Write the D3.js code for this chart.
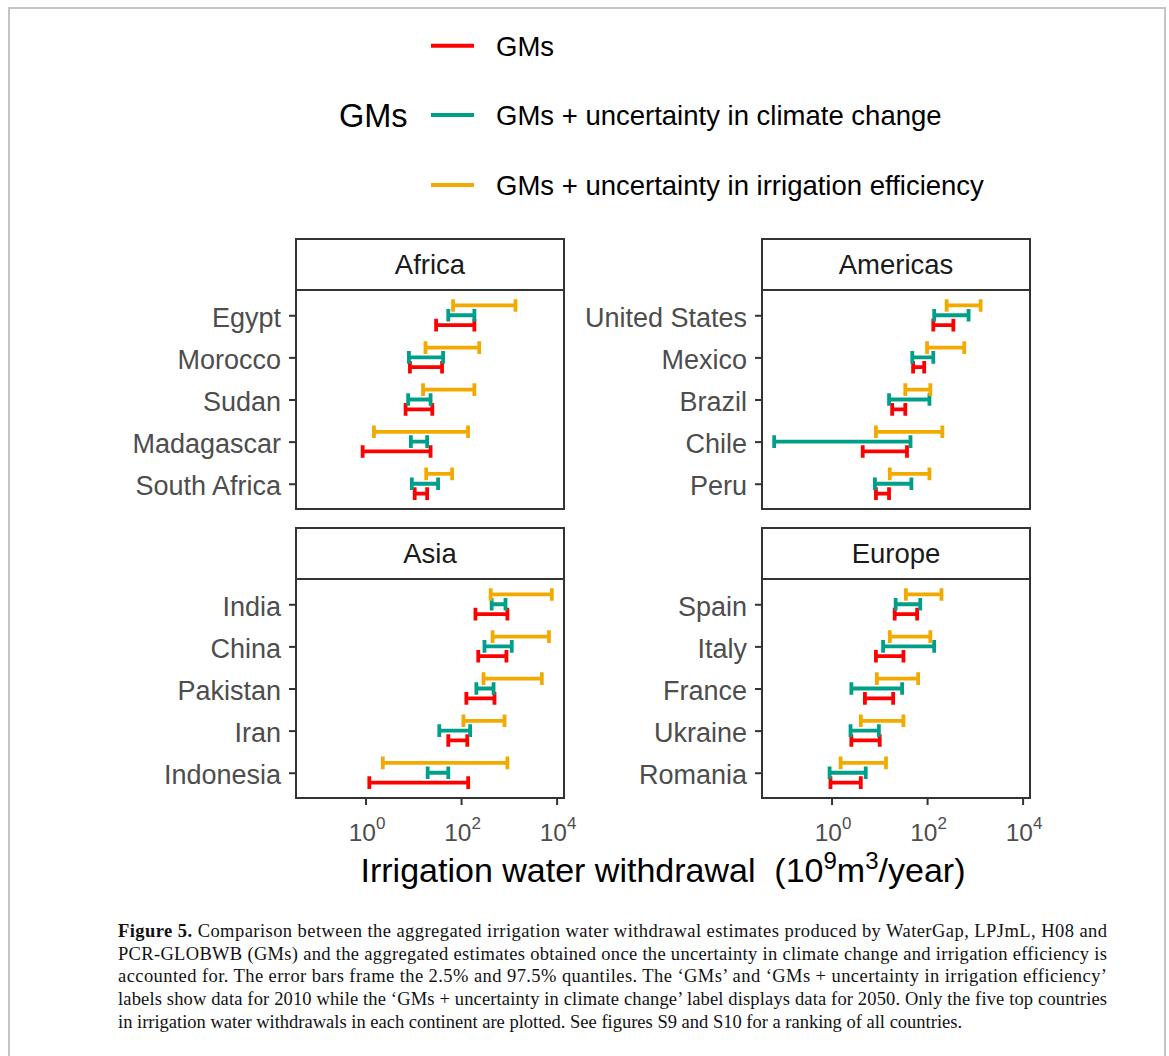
<!DOCTYPE html>
<html>
<head>
<meta charset="utf-8">
<script src="https://cdn.jsdelivr.net/npm/d3@7"></script>
<style>
  body { margin: 0; background: #fff; }
  svg { display: block; }
</style>
</head>
<body>
<div id="chart"></div>
<script>
// series, in the order they are dodged (GMs at the bottom of each group)
var seriesNames = ["GMs", "GMs + uncertainty in climate change", "GMs + uncertainty in irrigation efficiency"];
var seriesColors = ["#FF0000", "#009F8A", "#F3AA00"];

var continents = ["Africa", "Americas", "Asia", "Europe"];

var africaCountries = ["Egypt", "Morocco", "Sudan", "Madagascar", "South Africa"];
var americasCountries = ["United States", "Mexico", "Brazil", "Chile", "Peru"];
var asiaCountries = ["India", "China", "Pakistan", "Iran", "Indonesia"];
var europeCountries = ["Spain", "Italy", "France", "Ukraine", "Romania"];

// 2.5% and 97.5% quantiles, 10^9 m3/year, [low, high] per country
var africaGMs        = [[30, 190], [8.5, 40], [6.9, 25], [0.87, 23], [10.7, 19.5]];
var africaClimate    = [[54, 190], [8.1, 42], [7.8, 23], [8.9, 19.5], [9.3, 33]];
var africaEfficiency = [[68, 1380], [18, 240], [16, 190], [1.5, 140], [18.6, 65]];

var americasGMs        = [[135, 355], [51, 87], [18.6, 35], [4.5, 38], [8.5, 16]];
var americasClimate    = [[141, 740], [49, 135], [16, 112], [0.063, 45], [8.1, 47]];
var americasEfficiency = [[257, 1320], [100, 600], [35, 117], [8.5, 209], [16.6, 112]];

var asiaGMs        = [[200, 933], [229, 891], [129, 501], [54, 135], [1.2, 141]];
var asiaClimate    = [[437, 851], [309, 1150], [209, 479], [35, 155], [20, 54]];
var asiaEfficiency = [[417, 7940], [457, 6920], [295, 4900], [112, 813], [2.3, 933]];

var europeGMs        = [[21, 62], [8.5, 32], [5.0, 19.5], [2.6, 10.2], [0.95, 4.1]];
var europeClimate    = [[22, 72], [12, 141], [2.6, 30], [2.5, 9.8], [0.91, 5.2]];
var europeEfficiency = [[36, 200], [16.6, 117], [8.9, 65], [4.1, 32], [1.55, 13.8]];

var xTicks = [1, 100, 10000];

var captionLines = [
  "Comparison between the aggregated irrigation water withdrawal estimates produced by WaterGap, LPJmL, H08 and",
  "PCR-GLOBWB (GMs) and the aggregated estimates obtained once the uncertainty in climate change and irrigation efficiency is",
  "accounted for. The error bars frame the 2.5% and 97.5% quantiles. The \u2018GMs\u2019 and \u2018GMs + uncertainty in irrigation efficiency\u2019",
  "labels show data for 2010 while the \u2018GMs + uncertainty in climate change\u2019 label displays data for 2050. Only the five top countries",
  "in irrigation water withdrawals in each continent are plotted. See figures S9 and S10 for a ranking of all countries."
];

var panels = [
  {name: continents[0], countries: africaCountries, series: [africaGMs, africaClimate, africaEfficiency]},
  {name: continents[1], countries: americasCountries, series: [americasGMs, americasClimate, americasEfficiency]},
  {name: continents[2], countries: asiaCountries, series: [asiaGMs, asiaClimate, asiaEfficiency]},
  {name: continents[3], countries: europeCountries, series: [europeGMs, europeClimate, europeEfficiency]}
];

var W = 1169, H = 1056;
var sans = "'Liberation Sans', Arial, Helvetica, sans-serif";
var dark = "#333333";

var svg = d3.select("#chart").append("svg")
  .attr("width", W)
  .attr("height", H);

// light frame round the figure
svg.append("path")
  .attr("d", "M9," + H + "V8H1165V" + H)
  .attr("fill", "none")
  .attr("stroke", "#c4c4c4")
  .attr("stroke-width", 2);

// shared log x domain, ggplot-like 5% expansion
var allVals = [];
panels.forEach(function(p) {
  p.series.forEach(function(s) { s.forEach(function(d) { allVals.push(d[0], d[1]); }); });
});
var lext = d3.extent(allVals, function(v) { return Math.log10(v); });
var lpad = (lext[1] - lext[0]) * 0.05;
var xDomain = [Math.pow(10, lext[0] - lpad), Math.pow(10, lext[1] + lpad)];

var colX = [296, 762], rowY = [239, 528];
var panelW = 268, stripH = 51, panelH = 219;

panels.forEach(function(p, k) {
  var x0 = colX[k % 2], top = rowY[Math.floor(k / 2)];
  var py = top + stripH;

  var x = d3.scaleLog().domain(xDomain).range([x0, x0 + panelW]);
  var y = d3.scalePoint().domain(p.countries).range([py, py + panelH]).padding(0.6);
  var dodge = y.step() * 0.7 / 3;
  var cap = y.step() * 0.15;

  var g = svg.append("g");

  // strip
  g.append("rect")
    .attr("x", x0).attr("y", top)
    .attr("width", panelW).attr("height", stripH)
    .attr("fill", "#fff")
    .attr("stroke", dark)
    .attr("stroke-width", 2);
  g.append("text")
    .attr("x", x0 + panelW / 2)
    .attr("y", top + stripH / 2)
    .attr("dy", "0.36em")
    .attr("text-anchor", "middle")
    .attr("font-family", sans)
    .attr("font-size", 27.5)
    .attr("fill", "#1a1a1a")
    .text(p.name);

  // error bars
  p.series.forEach(function(s, si) {
    var off = (1 - si) * dodge;
    g.append("g").selectAll("path")
      .data(s)
      .enter()
      .append("path")
      .attr("d", function(d, i) {
        var cy = y(p.countries[i]) + off;
        var a = x(d[0]), b = x(d[1]);
        return "M" + a + "," + cy + "H" + b +
               "M" + a + "," + (cy - cap) + "V" + (cy + cap) +
               "M" + b + "," + (cy - cap) + "V" + (cy + cap);
      })
      .attr("fill", "none")
      .attr("stroke", seriesColors[si])
      .attr("stroke-width", 3.8);
  });

  // panel border
  g.append("rect")
    .attr("x", x0).attr("y", py)
    .attr("width", panelW).attr("height", panelH)
    .attr("fill", "none")
    .attr("stroke", dark)
    .attr("stroke-width", 2);

  // y axis
  var ya = g.append("g")
    .attr("transform", "translate(" + (x0 - 1) + ",0)")
    .call(d3.axisLeft(y).tickSize(6).tickPadding(8));
  ya.select(".domain").remove();
  ya.selectAll(".tick line").attr("stroke", dark).attr("stroke-width", 2);
  ya.selectAll(".tick text")
    .attr("font-family", sans)
    .attr("font-size", 27)
    .attr("dy", "0.40em")
    .attr("fill", "#4d4d4d");

  // x axis on the bottom row only
  if (k >= 2) {
    var xa = g.append("g")
      .attr("transform", "translate(0," + (py + panelH + 1) + ")")
      .call(d3.axisBottom(x).tickValues(xTicks).tickSize(6).tickFormat(""));
    xa.select(".domain").remove();
    xa.selectAll(".tick line").attr("stroke", dark).attr("stroke-width", 2);
    xa.selectAll(".tick text").each(function(d) {
      var t = d3.select(this)
        .attr("y", 41.5)
        .attr("dy", 0)
        .attr("dx", 1)
        .attr("font-family", sans)
        .attr("font-size", 24.5)
        .attr("fill", "#4d4d4d");
      t.append("tspan").text("10");
      t.append("tspan")
        .attr("dy", -12)
        .attr("font-size", 17)
        .text(Math.round(Math.log10(d)));
    });
  }
});

// x axis title
var xt = svg.append("text")
  .attr("x", 663)
  .attr("y", 882)
  .attr("text-anchor", "middle")
  .attr("font-family", sans)
  .attr("font-size", 34)
  .attr("fill", "#000")
  .style("white-space", "pre");
xt.append("tspan").text("Irrigation water withdrawal  (10");
xt.append("tspan").attr("dy", -13).attr("font-size", 24).text("9");
xt.append("tspan").attr("dy", 13).text("m");
xt.append("tspan").attr("dy", -13).attr("font-size", 24).text("3");
xt.append("tspan").attr("dy", 13).text("/year)");

// legend
var legendY = [45.7, 115, 185];
var legend = svg.append("g");
legend.append("text")
  .attr("x", 339)
  .attr("y", legendY[1])
  .attr("dy", "0.36em")
  .attr("font-family", sans)
  .attr("font-size", 32.5)
  .attr("fill", "#000")
  .text("GMs");
seriesNames.forEach(function(n, i) {
  legend.append("line")
    .attr("x1", 431).attr("x2", 474)
    .attr("y1", legendY[i]).attr("y2", legendY[i])
    .attr("stroke", seriesColors[i])
    .attr("stroke-width", 4);
  legend.append("text")
    .attr("x", 496)
    .attr("y", legendY[i])
    .attr("dy", "0.36em")
    .attr("font-family", sans)
    .attr("font-size", 27.5)
    .attr("fill", "#000")
    .text(n);
});

// caption, justified like the journal text
var serif = "'Liberation Serif', 'Times New Roman', serif";
captionLines.forEach(function(line, i) {
  var t = svg.append("text")
    .attr("x", 118)
    .attr("y", 937 + i * 22.7)
    .attr("font-family", serif)
    .attr("font-size", 18.5)
    .attr("fill", "#111")
    .style("white-space", "pre");
  if (i === 0) {
    t.append("tspan").attr("font-weight", "bold").text("Figure 5. ");
  }
  t.append("tspan").text(line);
  if (i < captionLines.length - 1) {
    t.attr("textLength", 989).attr("lengthAdjust", "spacing");
  }
});
</script>
</body>
</html>
